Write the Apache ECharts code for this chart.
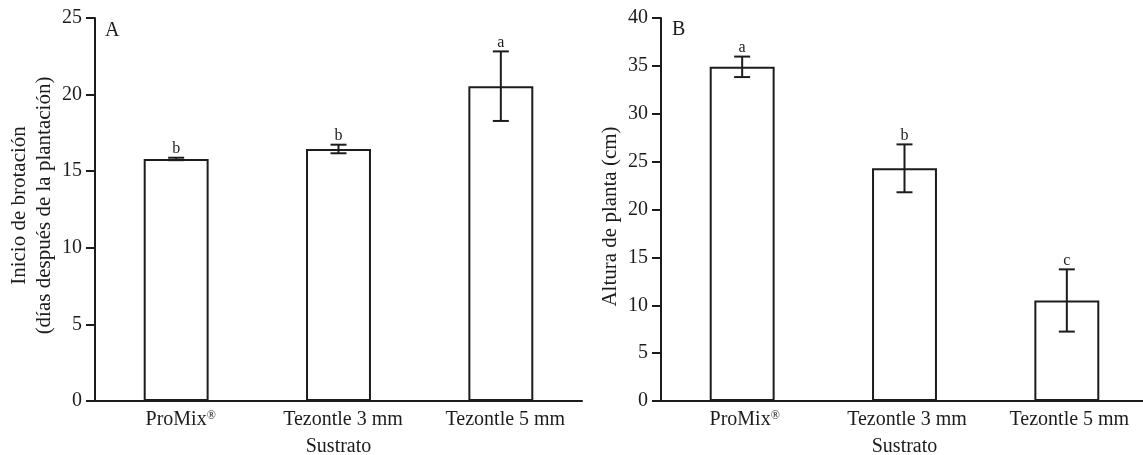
<!DOCTYPE html>
<html>
<head>
<meta charset="utf-8">
<script src="https://cdn.jsdelivr.net/npm/echarts@6/dist/echarts.min.js"></script>
<style>
  html, body { margin: 0; padding: 0; background: #fff; }
  #chart { width: 1143px; height: 455px; }
</style>
</head>
<body>
<div id="chart"></div>
<script>
// sustratos
var categories = ['ProMix', 'Tezontle 3 mm', 'Tezontle 5 mm'];

// A: inicio de brotación (días)
var brotacion = [15.8, 16.45, 20.55];
var brotacionErr = [0.08, 0.28, 2.27];
var brotacionLetras = ['b', 'b', 'a'];

// B: altura de planta (cm)
var altura = [34.9, 24.3, 10.5];
var alturaErr = [1.07, 2.5, 3.25];
var alturaLetras = ['a', 'b', 'c'];

var ink = '#1c1c1c';
var fuente = 'Liberation Serif';

var myChart = echarts.init(document.getElementById('chart'));

function ejeX(gridIndex, corrida) {
    return {
        type: 'category',
        gridIndex: gridIndex,
        data: categories,
        name: 'Sustrato',
        nameLocation: 'middle',
        nameGap: 36,
        nameTextStyle: {color: ink, fontFamily: fuente, fontSize: 20},
        axisLine: {lineStyle: {color: ink, width: 2}},
        axisTick: {length: 8, lineStyle: {color: ink, width: 2}},
        axisLabel: {
            interval: 0,
            margin: 9,
            padding: [0, 0, 0, corrida],
            color: ink,
            fontFamily: fuente,
            fontSize: 20,
            formatter: function (v) {
                return v === 'ProMix' ? '{t|ProMix}{sup|®}' : '{t|' + v + '}';
            },
            rich: {
                t: {fontFamily: fuente, fontSize: 20, color: ink, lineHeight: 20},
                sup: {fontFamily: fuente, fontSize: 12, color: ink, verticalAlign: 'top', lineHeight: 20, padding: [0, 0, 8, 0]}
            }
        }
    };
}

function ejeY(gridIndex, max, nombre, gap, pad) {
    return {
        type: 'value',
        gridIndex: gridIndex,
        min: 0,
        max: max,
        interval: 5,
        name: nombre,
        nameLocation: 'middle',
        nameGap: gap,
        nameRotate: 90,
        nameTextStyle: {color: ink, fontFamily: fuente, fontSize: 21, lineHeight: 25, padding: pad},
        splitLine: {show: false},
        axisLine: {show: true, lineStyle: {color: ink, width: 2}},
        axisTick: {show: true, length: 9, lineStyle: {color: ink, width: 2}},
        axisLabel: {margin: 13, color: ink, fontFamily: fuente, fontSize: 20}
    };
}

function barras(idx, valores) {
    return {
        type: 'bar',
        xAxisIndex: idx,
        yAxisIndex: idx,
        data: valores,
        barWidth: '40%',
        itemStyle: {color: '#fff', borderColor: ink, borderWidth: 2},
        emphasis: {disabled: true},
        z: 2
    };
}

function errores(idx, valores, errs, letras) {
    var datos = valores.map(function (v, i) { return [i, v, errs[i]]; });
    return {
        type: 'custom',
        xAxisIndex: idx,
        yAxisIndex: idx,
        data: datos,
        z: 5,
        renderItem: function (params, api) {
            var i = api.value(0);
            var v = api.value(1);
            var e = api.value(2);
            var alto = api.coord([i, v + e]);
            var bajo = api.coord([i, v - e]);
            var x = alto[0];
            var w = 8;
            var st = {stroke: ink, lineWidth: 2};
            return {
                type: 'group',
                children: [
                    {type: 'line', shape: {x1: x, y1: alto[1], x2: x, y2: bajo[1]}, style: st},
                    {type: 'line', shape: {x1: x - w, y1: alto[1], x2: x + w, y2: alto[1]}, style: st},
                    {type: 'line', shape: {x1: x - w, y1: bajo[1], x2: x + w, y2: bajo[1]}, style: st},
                    {type: 'text', x: x, y: alto[1] - 1, style: {
                        text: letras[params.dataIndex], fill: ink, font: '16px "Liberation Serif"',
                        align: 'center', verticalAlign: 'bottom'
                    }}
                ]
            };
        }
    };
}

myChart.setOption({
    animation: false,
    backgroundColor: '#fff',
    title: [
        {text: 'A', left: 100, top: 16, textStyle: {color: ink, fontFamily: fuente, fontSize: 20, fontWeight: 'normal'}},
        {text: 'B', left: 667, top: 15, textStyle: {color: ink, fontFamily: fuente, fontSize: 20, fontWeight: 'normal'}}
    ],
    grid: [
        {left: 95, top: 18, width: 487, height: 383, outerBoundsMode: 'none', containLabel: false},
        {left: 661, top: 18, width: 487, height: 383, outerBoundsMode: 'none', containLabel: false}
    ],
    xAxis: [ejeX(0, 9), ejeX(1, 5)],
    yAxis: [
        ejeY(0, 25, 'Inicio de brotación\n(días después de la plantación)', 38, [0, 0, 0, 8]),
        ejeY(1, 40, 'Altura de planta (cm)', 38, [0, 14, 0, 0])
    ],
    series: [
        barras(0, brotacion),
        errores(0, brotacion, brotacionErr, brotacionLetras),
        barras(1, altura),
        errores(1, altura, alturaErr, alturaLetras)
    ]
});
</script>
</body>
</html>
